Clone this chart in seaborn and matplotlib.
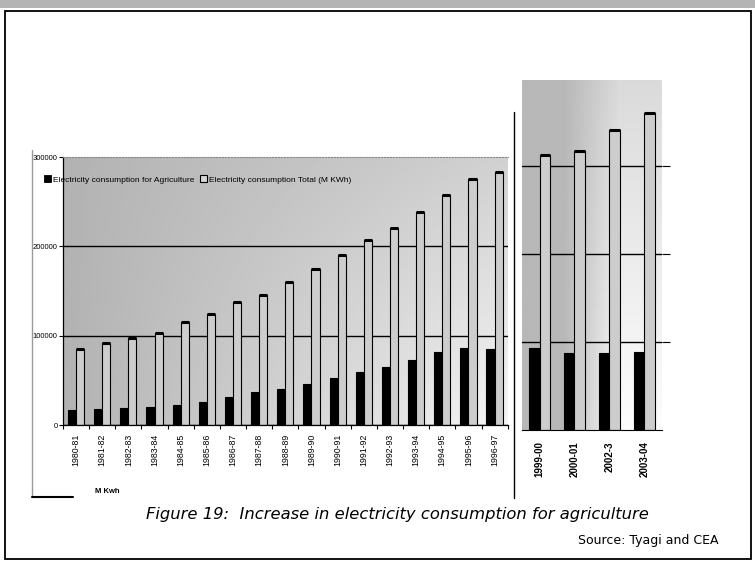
import numpy as np
import pandas as pd
import matplotlib
matplotlib.use('Agg')
import matplotlib.pyplot as plt
from matplotlib.patches import Patch, Rectangle
from matplotlib.lines import Line2D
import seaborn as sns

# data (M kWh)
years_left = ["1980-81", "1981-82", "1982-83", "1983-84", "1984-85", "1985-86",
              "1986-87", "1987-88", "1988-89", "1989-90", "1990-91", "1991-92",
              "1992-93", "1993-94", "1994-95", "1995-96", "1996-97"]
agri_left = [17000, 18400, 19000, 20700, 22000, 25600, 31400, 36800, 40500,
             45800, 52200, 59700, 65300, 72900, 81600, 86400, 85300]
total_left = [85000, 92000, 97000, 103000, 115500, 124000, 137300, 145500, 160500,
              175000, 190000, 206600, 220000, 238000, 257400, 275500, 283100]

years_right = ["1999-00", "2000-01", "2002-3", "2003-04"]
agri_right = [93500, 87000, 87000, 89000]
total_right = [313000, 317000, 341000, 360000]

series_names = ["Electricity consumption for Agriculture",
                "Electricity consumption Total (M KWh)"]
left_yticks = [0, 100000, 200000, 300000]
left_ylabels = ["0", "100000", "200000", "300000"]
right_yticks = [100000, 200000, 300000]

sns.set_style("white")
plt.rcParams['font.family'] = ['Liberation Sans', 'DejaVu Sans']
plt.rcParams['text.color'] = 'black'
plt.rcParams['xtick.color'] = 'black'
plt.rcParams['ytick.color'] = 'black'

colors = {series_names[0]: "black", series_names[1]: "#cdcdcd"}


def long_table(years, agri, total):
    return pd.DataFrame({
        "year": years + years,
        "value": agri + total,
        "series": [series_names[0]] * len(years) + [series_names[1]] * len(years),
    })


def shade(ax, vals):
    # gray background of the scanned plot area
    ax.imshow(vals, cmap="gray", vmin=0, vmax=1, aspect="auto",
              extent=[0, 1, 0, 1], transform=ax.transAxes, zorder=-10,
              interpolation="bilinear")


def caps(ax):
    # thick black top on the total bars
    for p in ax.patches:
        if p.get_facecolor()[0] > 0.5:
            x = p.get_x()
            ax.plot([x, x + p.get_width()], [p.get_height()] * 2,
                    color="black", lw=2.2, solid_capstyle="butt", zorder=5)


fig = plt.figure(figsize=(7.55, 5.61), dpi=100)

# left panel 1980-81 .. 1996-97
ax1 = fig.add_axes([0.0834, 0.2424, 0.589, 0.4777])
df_left = long_table(years_left, agri_left, total_left)
sns.barplot(data=df_left, x="year", y="value", hue="series", palette=colors,
            width=0.62, edgecolor="black", linewidth=0.8, legend=False, ax=ax1)
caps(ax1)
xx, yy = np.meshgrid(np.linspace(0, 1, 200), np.linspace(0, 1, 100))
shade(ax1, 0.70 + 0.12 * xx + 0.14 * xx * yy)
ax1.set_xlim(-0.5, len(years_left) - 0.5)
ax1.set_ylim(0, 300000)
ax1.set_yticks(left_yticks)
ax1.set_yticklabels(left_ylabels, fontsize=5.5)
ax1.set_axisbelow(True)
ax1.yaxis.grid(True, color="black", lw=1)
ax1.yaxis.get_gridlines()[-1].set_visible(False)
ax1.set_xticks(np.arange(len(years_left)))
ax1.set_xticklabels(years_left, rotation=90, fontsize=6.3)
ax1.set_xticks(np.arange(-0.5, len(years_left), 1), minor=True)
ax1.tick_params(axis="x", which="major", length=0, pad=6)
ax1.tick_params(axis="x", which="minor", length=3, width=0.8, direction="out", bottom=True)
ax1.tick_params(axis="y", length=3, width=0.8, direction="out", left=True, pad=1)
ax1.set_xlabel("")
ax1.set_ylabel("")
for s in ["left", "bottom"]:
    ax1.spines[s].set_color("black")
    ax1.spines[s].set_linewidth(0.9)
ax1.spines["right"].set_visible(False)
ax1.spines["top"].set_color("#888888")
ax1.spines["top"].set_linestyle(":")

# right panel 1999-00 .. 2003-04
ax2 = fig.add_axes([0.6914, 0.2335, 0.1854, 0.624])
df_right = long_table(years_right, agri_right, total_right)
sns.barplot(data=df_right, x="year", y="value", hue="series", palette=colors,
            width=0.58, edgecolor="black", linewidth=0.8, legend=False, ax=ax2)
caps(ax2)
xx, yy = np.meshgrid(np.linspace(0, 1, 200), np.linspace(0, 1, 100))
shade(ax2, 0.72 + 0.27 * np.clip((xx - 0.3) / 0.4, 0, 1) * (0.5 + 0.5 * yy))
ax2.set_xlim(-0.5, len(years_right) - 0.5)
ax2.set_ylim(0, 398000)
ax2.set_yticks(right_yticks)
ax2.set_yticklabels([])
ax2.yaxis.tick_right()
ax2.tick_params(axis="y", length=6, width=0.8, direction="out", right=True)
ax2.set_axisbelow(True)
ax2.yaxis.grid(True, color="black", lw=1)
ax2.set_xticks(np.arange(len(years_right)))
ax2.set_xticklabels(years_right, rotation=90, fontsize=7, fontweight="bold")
ax2.tick_params(axis="x", length=0, pad=8)
ax2.set_xlabel("")
ax2.set_ylabel("")
for s in ["left", "right", "top"]:
    ax2.spines[s].set_visible(False)
ax2.spines["bottom"].set_color("black")
ax2.spines["bottom"].set_linewidth(0.8)

# legend
handles = [Patch(facecolor="black", edgecolor="black", lw=0.6),
           Patch(facecolor="#d6d6d6", edgecolor="black", lw=0.8)]
fig.legend(handles, series_names, loc="upper left", bbox_to_anchor=(0.058, 0.688),
           ncol=2, frameon=False, fontsize=6, handlelength=0.9, handleheight=1.0,
           handletextpad=0.25, columnspacing=0.6, borderpad=0, borderaxespad=0)

# texts
fig.text(0.142, 0.123, "M Kwh", fontsize=5.5, fontweight="bold", ha="center", va="center")
fig.text(0.527, 0.082, "Figure 19:  Increase in electricity consumption for agriculture",
         fontsize=11.8, style="italic", family="DejaVu Sans", ha="center", va="center")
fig.text(0.951, 0.037, "Source: Tyagi and CEA", fontsize=9, family="DejaVu Sans",
         ha="right", va="center")

# page frame and scan edges
fig.patches.append(Rectangle((0, 0.986), 1, 0.014, transform=fig.transFigure,
                             facecolor="#b4b4b4", edgecolor="none"))
fig.patches.append(Rectangle((0.0066, 0.0036), 0.988, 0.977, transform=fig.transFigure,
                             fill=False, edgecolor="black", lw=1.3))
fig.add_artist(Line2D([0.0424, 0.0424], [0.733, 0.114], color="#999999", lw=1))
fig.add_artist(Line2D([0.0424, 0.0967], [0.114, 0.114], color="black", lw=1.5))
fig.add_artist(Line2D([0.681, 0.681], [0.80, 0.112], color="black", lw=1))

fig.savefig("out.png", dpi=100)
